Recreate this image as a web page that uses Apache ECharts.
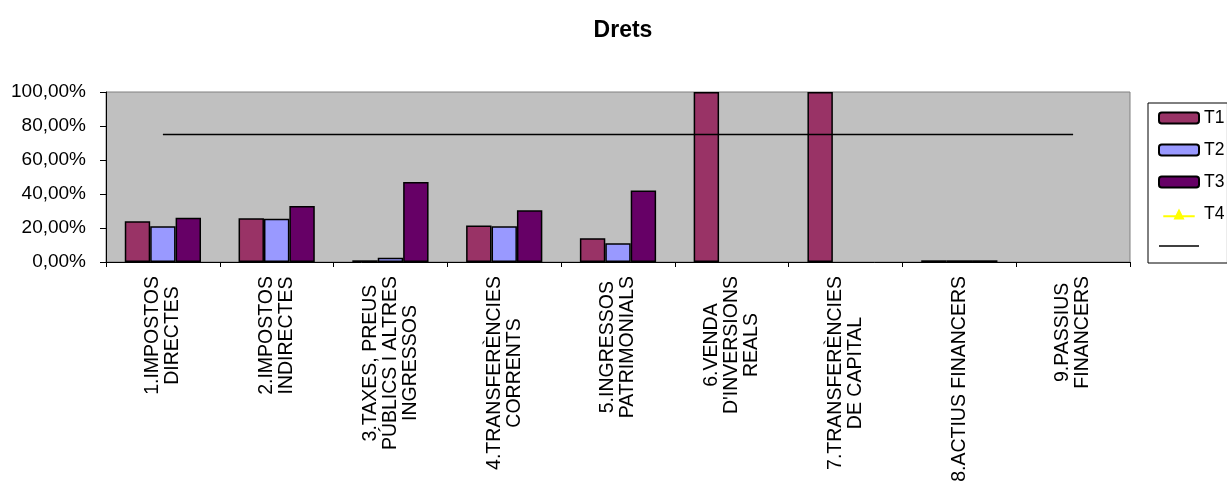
<!DOCTYPE html>
<html>
<head>
<meta charset="utf-8">
<script src="https://cdn.jsdelivr.net/npm/echarts@6/dist/echarts.min.js"></script>
<style>html,body{margin:0;padding:0;background:#fff}#c{width:1227px;height:489px}</style>
</head>
<body>
<div id="c"></div>
<script>
const categories = [
  "1.IMPOSTOS\nDIRECTES",
  "2.IMPOSTOS\nINDIRECTES",
  "3.TAXES, PREUS\nPÚBLICS I ALTRES\nINGRESSOS",
  "4.TRANSFERÈNCIES\nCORRENTS",
  "5.INGRESSOS\nPATRIMONIALS",
  "6.VENDA\nD'INVERSIONS\nREALS",
  "7.TRANSFERÈNCIES\nDE CAPITAL",
  "8.ACTIUS FINANCERS",
  "9.PASSIUS\nFINANCERS"
];
const t1 = [24, 25.7, 1.0, 21.5, 14, 100, 100, 1.0, null];
const t2 = [21, 25.5, 2.5, 21, 11, null, null, 1.0, null];
const t3 = [26, 33, 47, 30.5, 42, null, null, 1.0, null];
const t4 = [null, null, null, null, null, null, null, null, null];
const target = [75, 75, 75, 75, 75, 75, 75, 75, 75];
const yTicks = { min: 0, max: 100, interval: 20 };

const FONT = "'Liberation Sans', Arial, sans-serif";
const chart = echarts.init(document.getElementById('c'));
const barStyle = (c) => ({ color: c, borderColor: '#000', borderWidth: 1.5 });
chart.setOption({
  animation: false,
  title: {
    text: 'Drets', left: 618, top: 14, textAlign: 'center',
    textStyle: { fontFamily: FONT, fontSize: 23, fontWeight: 'bold', color: '#000' }
  },
  legend: {
    orient: 'vertical', left: 1148, top: 103,
    padding: [5, 3, 7, 10], itemGap: 12, itemWidth: 40, itemHeight: 11,
    backgroundColor: '#fff', borderColor: '#000', borderWidth: 1, borderRadius: 0,
    textStyle: { fontFamily: FONT, fontSize: 17.5, color: '#000', lineHeight: 20 },
    data: [
      'T1', 'T2', 'T3',
      { name: 'T4', icon: 'path://M0,8.5H40V11H0Z M13,14L20,0L27,14Z' },
      { name: ' ', icon: 'path://M0,0H40V1.5H0Z' }
    ]
  },
  grid: {
    left: 106, right: 97, top: 92, bottom: 227, show: true,
    backgroundColor: '#c0c0c0', borderColor: '#808080', borderWidth: 1
  },
  xAxis: {
    type: 'category', data: categories,
    axisLine: { lineStyle: { color: '#000', width: 1 } },
    axisTick: { show: true, length: 5, lineStyle: { color: '#000' } },
    axisLabel: {
      rotate: 90, margin: 14, interval: 0, color: '#000',
      formatter: (v) => v.split('\n').map(s => '{c|' + s + '}').join('\n'),
      rich: { c: { align: 'center', fontFamily: FONT, fontSize: 19.5, lineHeight: 20, color: '#000' } }
    }
  },
  yAxis: {
    type: 'value', min: yTicks.min, max: yTicks.max, interval: yTicks.interval,
    axisLine: { show: true, lineStyle: { color: '#000', width: 1 } },
    axisTick: { show: true, length: 6, lineStyle: { color: '#000' } },
    splitLine: { show: false },
    axisLabel: {
      margin: 20, color: '#000', fontFamily: FONT, fontSize: 19,
      formatter: (v) => v.toFixed(2).replace('.', ',') + '%'
    }
  },
  series: [
    { name: 'T1', type: 'bar', data: t1, barGap: '0%', barCategoryGap: '33%', itemStyle: barStyle('#993366') },
    { name: 'T2', type: 'bar', data: t2, itemStyle: barStyle('#9999ff') },
    { name: 'T3', type: 'bar', data: t3, itemStyle: barStyle('#660066') },
    { name: 'T4', type: 'line', data: t4, symbol: 'triangle', symbolSize: 10,
      itemStyle: { color: '#ffff00' }, lineStyle: { color: '#ffff00', width: 1.5 } },
    { name: ' ', type: 'line', data: target, symbol: 'none',
      itemStyle: { color: '#000' }, lineStyle: { color: '#000', width: 1.5 } }
  ]
});
</script>
</body>
</html>
